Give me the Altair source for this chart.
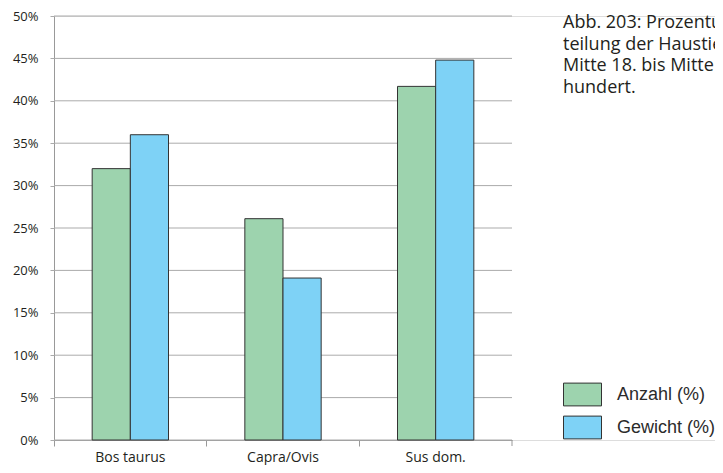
import altair as alt
import pandas as pd

categories = ["Bos taurus", "Capra/Ovis", "Sus dom."]
series = ["Anzahl (%)", "Gewicht (%)"]
anzahl = [32.0, 26.1, 41.7]
gewicht = [36.0, 19.1, 44.8]
y_ticks = [0, 5, 10, 15, 20, 25, 30, 35, 40, 45, 50]
caption_lines = [
    "Abb. 203: Prozentuale Ver-",
    "teilung der Haustierknochen,",
    "Mitte 18. bis Mitte 19. Jahr-",
    "hundert.",
]
colors = ["#9dd3ae", "#7ed2f6"]

rows = []
for c, a, g in zip(categories, anzahl, gewicht):
    rows.append({"cat": c, "series": series[0], "value": a})
    rows.append({"cat": c, "series": series[1], "value": g})
df = pd.DataFrame(rows)
grid_df = pd.DataFrame({"v": y_ticks})
cap_df = pd.DataFrame({"t": ["\n".join(caption_lines)]})

PLOT_W = 458
PLOT_H = 424
GRID = "#ababab"
AXIS = "#999999"
TXT = "#231f20"

x_scale = alt.Scale(domain=categories, range=[0, PLOT_W], paddingInner=0, paddingOuter=0)
y_scale = alt.Scale(domain=[0, 50], nice=False)

y_axis = alt.Axis(
    values=y_ticks,
    labelExpr="datum.value + '%'",
    labelFont="Open Sans",
    labelFontSize=13,
    labelColor=TXT,
    labelPadding=12,
    tickSize=4,
    tickColor=GRID,
    domainColor=AXIS,
    grid=False,
)

grid = alt.Chart(grid_df).mark_rule(color=GRID, strokeWidth=1).encode(
    y=alt.Y("v:Q", scale=y_scale, axis=y_axis, title=None),
    x=alt.value(0),
    x2=alt.value(PLOT_W),
)

bars = alt.Chart(df).mark_bar(stroke="#333333", strokeWidth=1, opacity=1).encode(
    x=alt.X(
        "cat:N",
        scale=x_scale,
        sort=categories,
        title=None,
        axis=alt.Axis(
            labelAngle=0,
            labelFont="Open Sans",
            labelFontSize=14,
            labelColor=TXT,
            labelPadding=4,
            tickSize=6,
            tickColor=AXIS,
            domainColor=AXIS,
            bandPosition=0,
            grid=False,
        ),
    ),
    xOffset=alt.XOffset("series:N", sort=series, scale=alt.Scale(paddingInner=0, paddingOuter=1)),
    y=alt.Y("value:Q", scale=y_scale, title=None, axis=y_axis),
    color=alt.Color(
        "series:N",
        sort=series,
        scale=alt.Scale(domain=series, range=colors),
        legend=alt.Legend(
            title=None,
            orient="none",
            legendX=509,
            legendY=359,
            padding=0,
            symbolType="M-1,-0.6H1V0.6H-1Z",
            symbolSize=1444,
            symbolStrokeColor="#333333",
            symbolStrokeWidth=1,
            symbolOpacity=1,
            labelFont="Liberation Sans",
            labelFontSize=18,
            labelColor="#2b2b2b",
            labelOffset=15,
            rowPadding=-2,
        ),
    ),
)

end_tick = alt.Chart(grid_df.head(1)).mark_rule(color=AXIS, strokeWidth=1).encode(
    x=alt.value(PLOT_W),
    y=alt.value(PLOT_H),
    y2=alt.value(PLOT_H + 6),
)

caption = alt.Chart(cap_df).mark_text(
    align="left",
    baseline="alphabetic",
    font="Open Sans",
    fontSize=18,
    lineHeight=21.5,
    lineBreak="\n",
    color=TXT,
).encode(
    text="t:N",
    x=alt.value(509),
    y=alt.value(12),
)

chart = alt.layer(grid, bars, end_tick, caption).properties(
    width=661,
    height=PLOT_H,
    autosize=alt.AutoSizeParams(type="none"),
    padding={"left": 46, "top": 8, "right": 0, "bottom": 25},
).configure_view(stroke=None).configure(background="white")

chart.save("out.html", embed_options={"renderer": "svg", "actions": False})
